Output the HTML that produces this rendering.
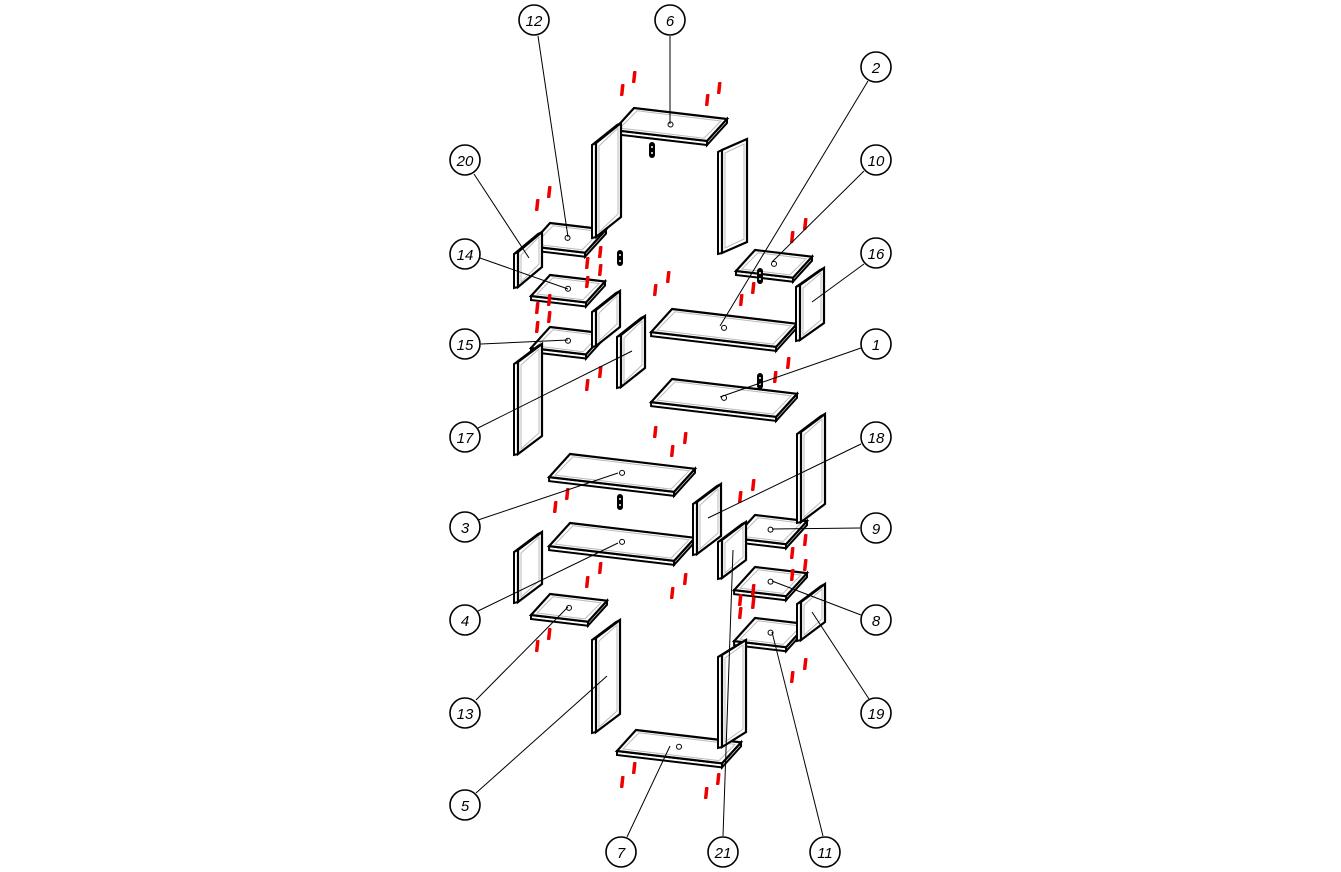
<!DOCTYPE html>
<html><head><meta charset="utf-8"><style>
html,body{margin:0;padding:0;background:#fff;}
svg{display:block;}
text{font-family:"Liberation Sans",sans-serif;font-style:italic;font-size:15px;}
</style></head><body>
<svg id="s" width="1341" height="872" viewBox="0 0 1341 872" xmlns="http://www.w3.org/2000/svg">
<g id="shapes"></g>
<g id="leaders" stroke="#000" stroke-width="1" fill="none">
<line x1="538" y1="36" x2="568" y2="237"/>
<line x1="670" y1="36" x2="670" y2="124"/>
<line x1="868" y1="81" x2="720" y2="326"/>
<line x1="474" y1="174" x2="529" y2="258"/>
<line x1="864" y1="171" x2="772" y2="262"/>
<line x1="480" y1="258" x2="568" y2="289"/>
<line x1="864" y1="264" x2="812" y2="302"/>
<line x1="481" y1="344" x2="568" y2="340"/>
<line x1="861" y1="348" x2="720" y2="397"/>
<line x1="478" y1="428" x2="632" y2="351"/>
<line x1="861" y1="444" x2="708" y2="518"/>
<line x1="478" y1="520" x2="618" y2="473"/>
<line x1="860" y1="528" x2="772" y2="529"/>
<line x1="478" y1="611" x2="618" y2="543"/>
<line x1="861" y1="615" x2="772" y2="581"/>
<line x1="476" y1="700" x2="568" y2="607"/>
<line x1="869" y1="699" x2="812" y2="612"/>
<line x1="476" y1="793" x2="607" y2="676"/>
<line x1="627" y1="837" x2="670" y2="746"/>
<line x1="723" y1="836" x2="733" y2="550"/>
<line x1="823" y1="836" x2="772" y2="632"/>
</g>
<g id="labels" stroke="#000" stroke-width="1.6" fill="#fff">
<circle cx="534" cy="20" r="15"/><circle cx="670" cy="20" r="15"/><circle cx="876" cy="67" r="15"/>
<circle cx="465" cy="160" r="15"/><circle cx="876" cy="160" r="15"/><circle cx="465" cy="254" r="15"/>
<circle cx="876" cy="253" r="15"/><circle cx="465" cy="344" r="15"/><circle cx="876" cy="344" r="15"/>
<circle cx="465" cy="437" r="15"/><circle cx="876" cy="437" r="15"/><circle cx="465" cy="527" r="15"/>
<circle cx="876" cy="528" r="15"/><circle cx="465" cy="620" r="15"/><circle cx="876" cy="620" r="15"/>
<circle cx="465" cy="713" r="15"/><circle cx="876" cy="713" r="15"/><circle cx="465" cy="805" r="15"/>
<circle cx="621" cy="852" r="15"/><circle cx="723" cy="852" r="15"/><circle cx="825" cy="852" r="15"/>
</g>
<g fill="#000" text-anchor="middle">
<text x="534" y="26">12</text><text x="670" y="26">6</text><text x="876" y="73">2</text>
<text x="465" y="166">20</text><text x="876" y="166">10</text><text x="465" y="260">14</text>
<text x="876" y="259">16</text><text x="465" y="350">15</text><text x="876" y="350">1</text>
<text x="465" y="443">17</text><text x="876" y="443">18</text><text x="465" y="533">3</text>
<text x="876" y="534">9</text><text x="465" y="626">4</text><text x="876" y="626">8</text>
<text x="465" y="719">13</text><text x="876" y="719">19</text><text x="465" y="811">5</text>
<text x="621" y="858">7</text><text x="723" y="858">21</text><text x="825" y="858">11</text>
</g>
</svg>
<script>
var g=document.getElementById('shapes'),h='';
function P(pts){return pts.map(function(p){return p[0].toFixed(1)+','+p[1].toFixed(1)}).join(' ');}
function shelf(x,y,L,D){
 var sx=1,sy=0.118,dx=-0.95*D/1,dy=1.05*D;
 var a=[x,y],b=[x+L,y+L*sy],c=[x+L+dx,y+L*sy+dy],d=[x+dx,y+dy],t=4;
 h+='<polygon points="'+P([d,c,[c[0],c[1]+t],[d[0],d[1]+t]])+'" fill="#fff" stroke="#000" stroke-width="2"/>';
 h+='<polygon points="'+P([b,c,[c[0],c[1]+t],[b[0],b[1]+t]])+'" fill="#fff" stroke="#000" stroke-width="2"/>';
 h+='<polygon points="'+P([a,b,c,d])+'" fill="#fff" stroke="#000" stroke-width="2.2"/>';
 var i=4;h+='<polygon points="'+P([[a[0]+i-1,a[1]+i*0.7],[b[0]-i-2,b[1]+i*0.5],[c[0]-i+1,c[1]-i*0.7],[d[0]+i+2,d[1]-i*0.5]])+'" fill="none" stroke="#bbb" stroke-width="1"/>';
 var cx=(a[0]+c[0])/2,cy=(a[1]+c[1])/2;
 h+='<circle cx="'+cx+'" cy="'+cy+'" r="2.5" fill="#fff" stroke="#000" stroke-width="1"/>';
}
function panel(x,y,dx,dy,H){
 var t=4,a=[x,y],b=[x+dx,y+dy];
 h+='<polygon points="'+P([[a[0]-t,a[1]+2],[b[0]-t,b[1]+2],b,a])+'" fill="#fff" stroke="#000" stroke-width="2"/>';
 h+='<polygon points="'+P([[a[0]-t,a[1]+2],a,[a[0],a[1]+H],[a[0]-t,a[1]+H+1]])+'" fill="#fff" stroke="#000" stroke-width="2"/>';
 h+='<polygon points="'+P([a,b,[b[0],b[1]+H],[a[0],a[1]+H]])+'" fill="#fff" stroke="#000" stroke-width="2.2"/>';
 h+='<polygon points="'+P([[a[0]+3,a[1]+3],[b[0]-3,b[1]+5],[b[0]-3,b[1]+H-3],[a[0]+3,a[1]+H-5]])+'" fill="none" stroke="#bbb" stroke-width="1"/>';
}
shelf(634,108,93,21);
shelf(550,223,56,22);shelf(550,275,55,20);shelf(550,327,55,20);
shelf(755,250,57,20);shelf(672,309,125,22);shelf(672,379,125,22);
shelf(570,454,125,22);shelf(570,523,125,22);shelf(550,594,57,20);
shelf(755,515,52,22);shelf(755,567,52,22);shelf(755,618,52,22);
shelf(636,730,105,20);
panel(596,143,25,-20,94);panel(722,150,25,-11,103);panel(518,252,24,-20,35);
panel(800,285,24,-17,55);panel(621,335,24,-19,52);panel(596,310,24,-19,36);
panel(518,362,24,-18,92);panel(801,432,24,-18,90);panel(697,502,24,-18,52);
panel(518,550,24,-18,52);panel(722,540,24,-18,38);panel(801,602,24,-18,38);
panel(596,638,24,-18,94);panel(722,655,24,-15,92);
var red=[[622,90],[634,77],[707,100],[719,88],[537,205],[549,192],[587,263],[600,252],[587,282],[600,270],[537,308],[549,300],[537,327],[549,317],[587,385],[600,372],[655,290],[668,277],[741,300],[753,288],[792,237],[805,224],[775,377],[788,363],[655,432],[672,451],[685,438],[555,507],[567,494],[587,582],[600,568],[672,593],[685,579],[537,646],[549,634],[740,497],[753,485],[792,553],[805,540],[792,575],[805,565],[740,600],[753,590],[740,613],[753,603],[792,677],[805,664],[622,782],[634,768],[706,793],[718,779]];
red.forEach(function(p){h+='<rect x="'+(p[0]-1.5)+'" y="'+(p[1]-6)+'" width="3.5" height="12" rx="1" fill="#e00" transform="skewX(-6)" transform-origin="'+p[0]+' '+p[1]+'"/>';});
[[652,150],[620,258],[760,276],[760,381],[620,502]].forEach(function(p){h+='<rect x="'+(p[0]-3)+'" y="'+(p[1]-8)+'" width="6" height="16" rx="3" fill="#000"/><circle cx="'+p[0]+'" cy="'+(p[1]-3)+'" r="1" fill="#fff"/><circle cx="'+p[0]+'" cy="'+(p[1]+3)+'" r="1" fill="#fff"/>';});
g.innerHTML=h;
</script>
</body></html>
